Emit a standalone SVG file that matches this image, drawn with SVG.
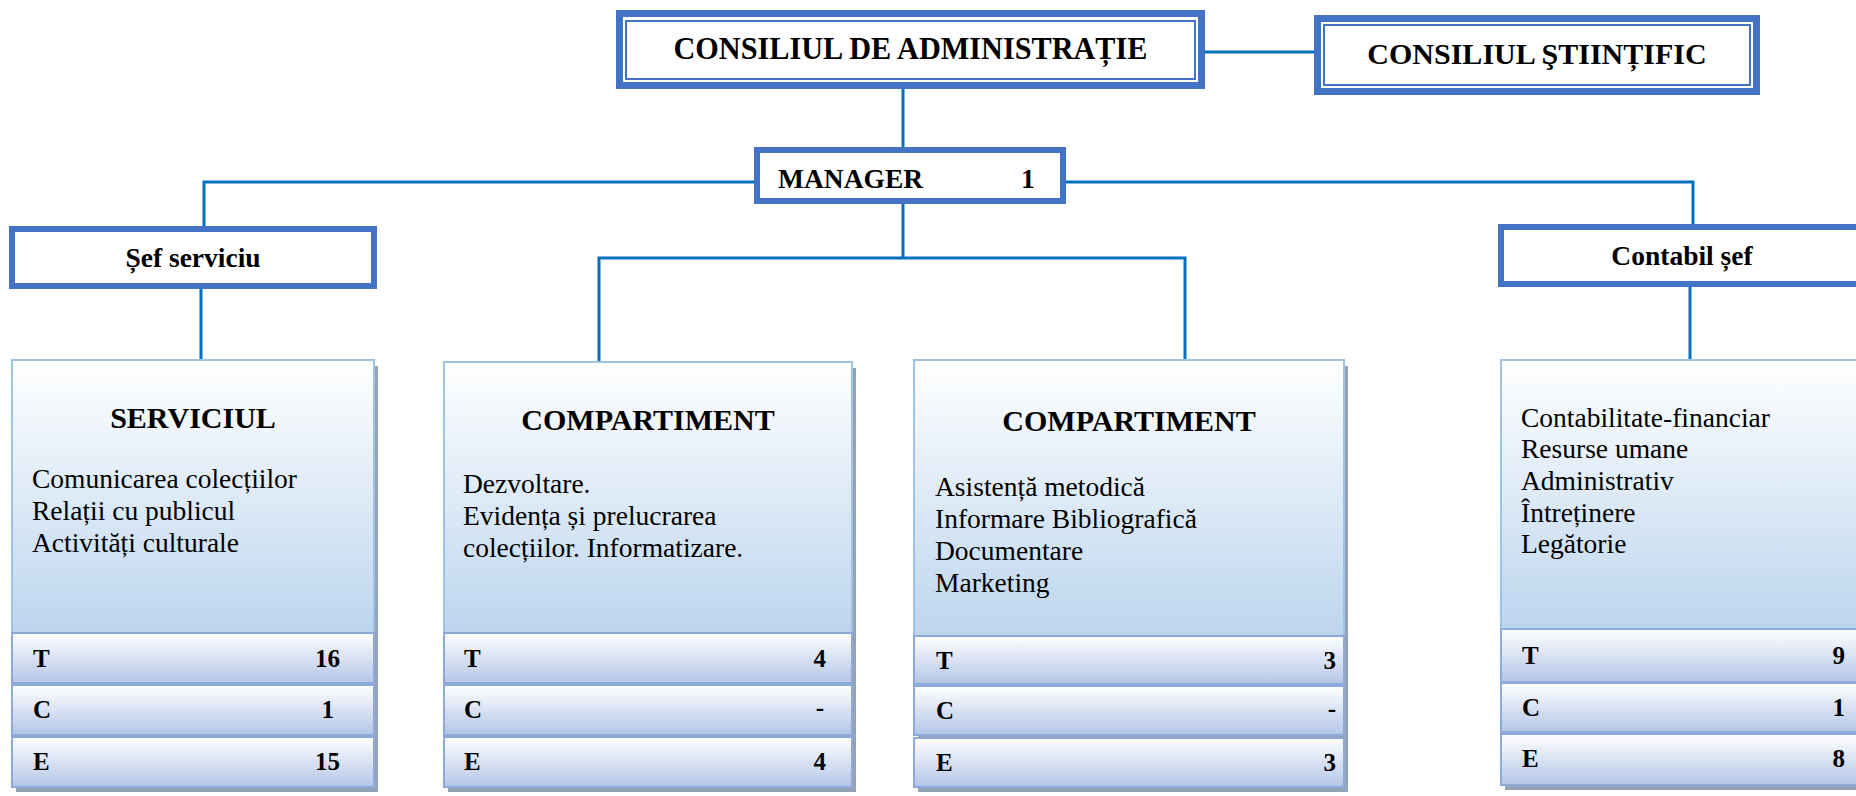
<svg xmlns="http://www.w3.org/2000/svg" width="1856" height="796" viewBox="0 0 1856 796">
<defs>
<linearGradient id="bodyGrad" x1="0" y1="0" x2="0" y2="1">
<stop offset="0" stop-color="#FFFFFF"/>
<stop offset="1" stop-color="#BCD5EE"/>
</linearGradient>
<linearGradient id="rowGrad" x1="0" y1="0" x2="0" y2="1">
<stop offset="0" stop-color="#FFFFFF"/>
<stop offset="1" stop-color="#B3C5E7"/>
</linearGradient>
<style>
.thick{fill:#FFFFFF;stroke:#4472C4}
.thin{fill:none;stroke:#4472C4;stroke-width:2}
.conn{fill:none;stroke:#0070C0;stroke-width:3}
.body{fill:url(#bodyGrad);stroke:#9DC3E6;stroke-width:2}
.row{fill:url(#rowGrad);stroke:#8EAADB;stroke-width:2}
.shadow{fill:#94A3B8}
text{font-family:"Liberation Serif","Times New Roman",serif;fill:#000000}
.hb{font-weight:bold}
.t31{font-size:31px}
.t30{font-size:30px}
.t27{font-size:27.5px}
.lab{font-size:25px;font-weight:bold}
</style>
</defs>
<rect width="1856" height="796" fill="#FFFFFF"/>

<g id="connectors">
<path class="conn" d="M1205,52 H1314"/>
<path class="conn" d="M903,89 V147"/>
<path class="conn" d="M204,226 V182 H754"/>
<path class="conn" d="M1066,182 H1693 V224"/>
<path class="conn" d="M903,204 V258"/>
<path class="conn" d="M599,362 V258 H1185 V360"/>
<path class="conn" d="M201,289 V360"/>
<path class="conn" d="M1690,287 V360"/>
</g>

<g id="consiliul-administratie">
<rect class="thick" x="619.5" y="13.5" width="582" height="72" stroke-width="7"/>
<rect class="thin" x="626" y="21" width="569" height="58"/>
<text class="hb t31" x="910.5" y="59" text-anchor="middle" textLength="474" lengthAdjust="spacingAndGlyphs">CONSILIUL DE ADMINISTRAȚIE</text>
</g>

<g id="consiliul-stiintific">
<rect class="thick" x="1317.5" y="18.5" width="439" height="73" stroke-width="7"/>
<rect class="thin" x="1324" y="25" width="426" height="60"/>
<text class="hb t30" x="1537" y="64" text-anchor="middle">CONSILIUL ŞTIINȚIFIC</text>
</g>

<g id="manager">
<rect class="thick" x="757" y="150" width="306" height="51" stroke-width="6"/>
<text class="hb t27" x="778" y="188">MANAGER</text>
<text class="hb t27" x="1021" y="188">1</text>
</g>

<g id="sef-serviciu">
<rect class="thick" x="12" y="229" width="362" height="57" stroke-width="6"/>
<text class="hb t27" x="193" y="267" text-anchor="middle">Șef serviciu</text>
</g>

<g id="contabil-sef">
<rect class="thick" x="1501" y="227" width="363" height="57" stroke-width="6"/>
<text class="hb t27" x="1682" y="265" text-anchor="middle">Contabil șef</text>
</g>

<g id="serviciul">
<rect class="shadow" x="16" y="366" width="362" height="426"/>
<rect class="body" x="12" y="360" width="362" height="273"/>
<text class="hb t30" x="193" y="428" text-anchor="middle">SERVICIUL</text>
<text class="t27" x="32" y="488">Comunicarea colecțiilor</text>
<text class="t27" x="32" y="520">Relații cu publicul</text>
<text class="t27" x="32" y="552">Activități culturale</text>
<rect class="row" x="12" y="633" width="362" height="50"/>
<rect class="row" x="12" y="685" width="362" height="50"/>
<rect class="row" x="12" y="737" width="362" height="50"/>
<text class="lab" x="33" y="667">T</text>
<text class="lab" x="340" y="667" text-anchor="end">16</text>
<text class="lab" x="33" y="718">C</text>
<text class="lab" x="334" y="718" text-anchor="end">1</text>
<text class="lab" x="33" y="770">E</text>
<text class="lab" x="340" y="770" text-anchor="end">15</text>
</g>

<g id="compartiment-1">
<rect class="shadow" x="448" y="368" width="408" height="424"/>
<rect class="body" x="444" y="362" width="408" height="271"/>
<text class="hb t30" x="648" y="430" text-anchor="middle">COMPARTIMENT</text>
<text class="t27" x="463" y="493">Dezvoltare.</text>
<text class="t27" x="463" y="525">Evidența și prelucrarea</text>
<text class="t27" x="463" y="557">colecțiilor. Informatizare.</text>
<rect class="row" x="444" y="633" width="408" height="50"/>
<rect class="row" x="444" y="685" width="408" height="50"/>
<rect class="row" x="444" y="737" width="408" height="50"/>
<text class="lab" x="464" y="667">T</text>
<text class="lab" x="826" y="667" text-anchor="end">4</text>
<text class="lab" x="464" y="718">C</text>
<text class="lab" x="824" y="716" text-anchor="end">-</text>
<text class="lab" x="464" y="770">E</text>
<text class="lab" x="826" y="770" text-anchor="end">4</text>
</g>

<g id="compartiment-2">
<rect class="shadow" x="918" y="366" width="430" height="426"/>
<rect class="body" x="914" y="360" width="430" height="276"/>
<text class="hb t30" x="1129" y="431" text-anchor="middle">COMPARTIMENT</text>
<text class="t27" x="935" y="496">Asistență metodică</text>
<text class="t27" x="935" y="528">Informare Bibliografică</text>
<text class="t27" x="935" y="560">Documentare</text>
<text class="t27" x="935" y="592">Marketing</text>
<rect class="row" x="914" y="636" width="430" height="48"/>
<rect class="row" x="914" y="686" width="430" height="49"/>
<rect class="row" x="914" y="738" width="430" height="49"/>
<text class="lab" x="936" y="669">T</text>
<text class="lab" x="1336" y="669" text-anchor="end">3</text>
<text class="lab" x="936" y="719">C</text>
<text class="lab" x="1336" y="717" text-anchor="end">-</text>
<text class="lab" x="936" y="771">E</text>
<text class="lab" x="1336" y="771" text-anchor="end">3</text>
</g>

<g id="contabilitate">
<rect class="shadow" x="1505" y="366" width="365" height="424"/>
<rect class="body" x="1501" y="360" width="365" height="269"/>
<text class="t27" x="1521" y="427">Contabilitate-financiar</text>
<text class="t27" x="1521" y="458">Resurse umane</text>
<text class="t27" x="1521" y="490">Administrativ</text>
<text class="t27" x="1521" y="522">Întreținere</text>
<text class="t27" x="1521" y="553">Legătorie</text>
<rect class="row" x="1501" y="629" width="365" height="53"/>
<rect class="row" x="1501" y="683" width="365" height="49"/>
<rect class="row" x="1501" y="734" width="365" height="51"/>
<text class="lab" x="1522" y="664">T</text>
<text class="lab" x="1845" y="664" text-anchor="end">9</text>
<text class="lab" x="1522" y="716">C</text>
<text class="lab" x="1845" y="716" text-anchor="end">1</text>
<text class="lab" x="1522" y="767">E</text>
<text class="lab" x="1845" y="767" text-anchor="end">8</text>
</g>
</svg>
